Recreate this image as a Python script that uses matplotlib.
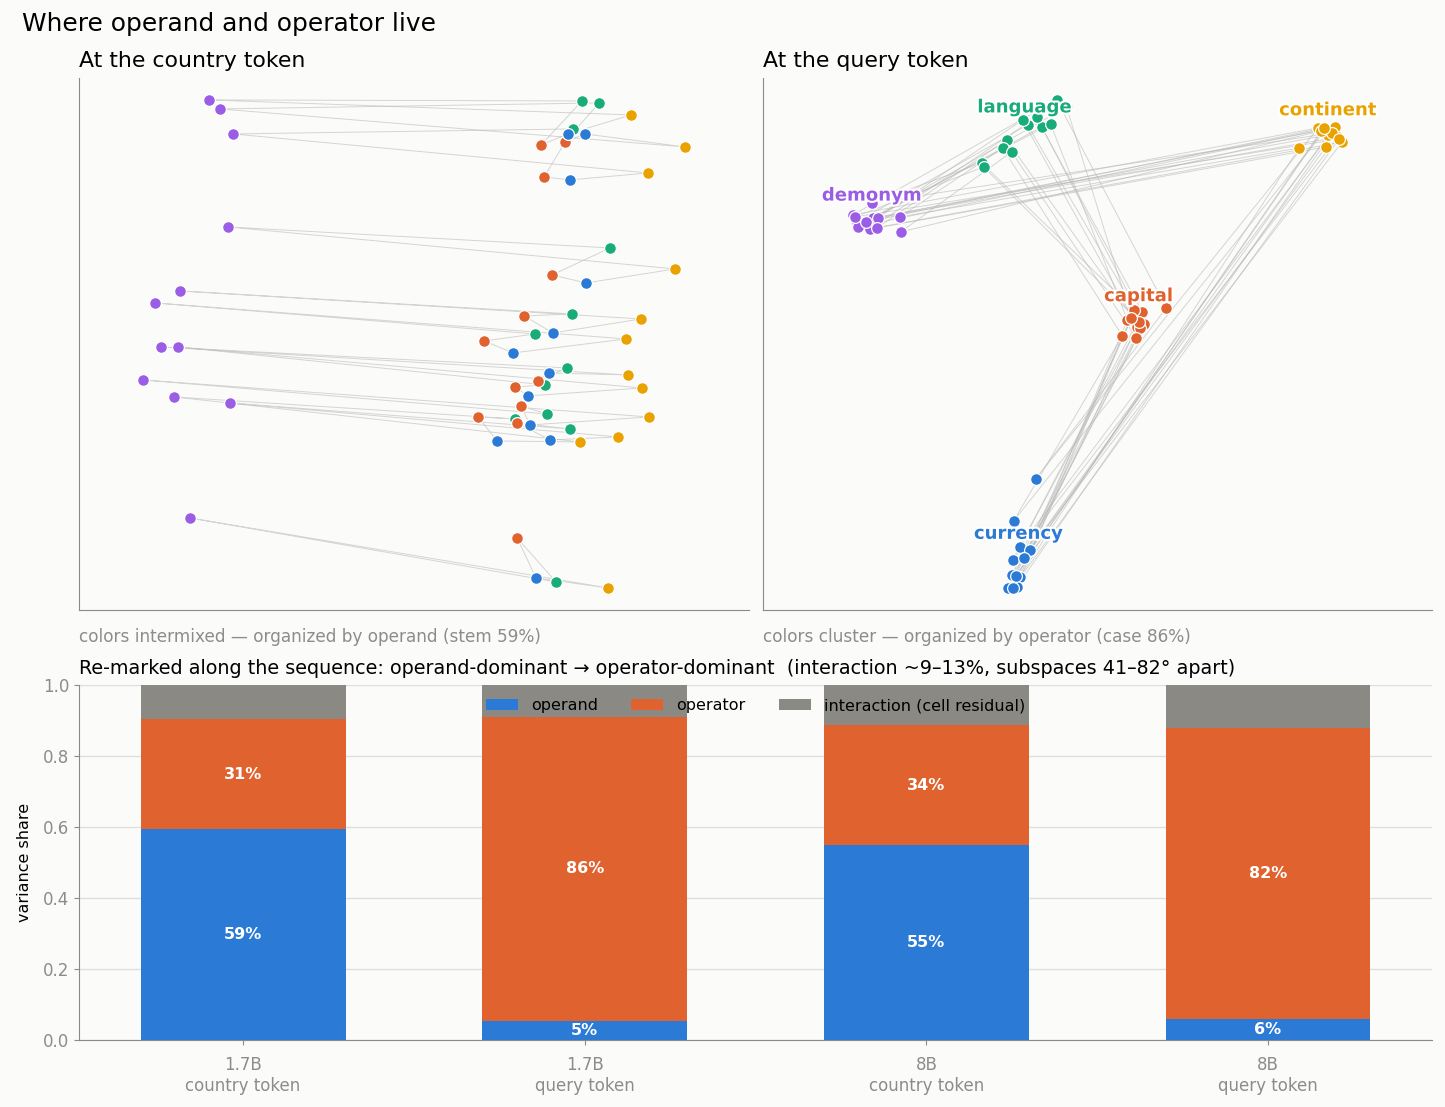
import numpy as np
import matplotlib
matplotlib.use("Agg")
import matplotlib.pyplot as plt
import matplotlib.patheffects as pe

# attribute order inside each country cycle
attrs = ["demonym", "language", "capital", "currency", "continent"]
colors = {"demonym": "#9b5de5", "language": "#1aab7b", "capital": "#e0622f",
          "currency": "#2a7ad6", "continent": "#e9a200"}

# country-token projection (12 countries), [x, y] per attribute
left_demonym = [[13.0, 51.0], [14.1, 50.1], [15.4, 47.6], [14.9, 38.3], [10.1, 31.9], [7.6, 30.7],
                [8.2, 26.3], [9.9, 26.3], [6.4, 23.0], [9.5, 21.3], [15.1, 20.7], [11.1, 9.2]]
left_language = [[50.3, 50.9], [52.0, 50.7], [49.4, 48.1], [53.1, 36.2], [49.3, 29.6], [45.6, 27.6],
                 [48.8, 24.2], [46.6, 22.5], [46.8, 19.6], [43.6, 19.1], [49.1, 18.1], [47.7, 2.8]]
left_capital = [[46.2, 46.5], [48.6, 46.8], [46.5, 43.3], [47.3, 33.5], [44.5, 29.4], [40.5, 26.9],
                [45.9, 22.9], [43.6, 22.3], [44.2, 20.4], [39.9, 19.3], [43.8, 18.7], [43.8, 7.2]]
left_currency = [[48.9, 47.6], [50.6, 47.6], [49.1, 43.0], [50.7, 32.7], [47.4, 27.7], [43.4, 25.7],
                 [47.0, 23.7], [44.9, 21.4], [45.1, 18.5], [41.8, 16.9], [47.1, 17.0], [45.7, 3.2]]
left_continent = [[55.2, 49.5], [60.6, 46.3], [56.9, 43.7], [59.6, 34.1], [56.2, 29.1], [54.7, 27.1],
                  [54.9, 23.5], [56.3, 22.2], [57.0, 19.3], [50.1, 16.8], [53.9, 17.3], [52.9, 2.2]]

# query-token projection
right_demonym = [[9.0, 39.5], [9.4, 38.8], [9.5, 38.3], [11.0, 39.2], [11.5, 39.2], [10.7, 38.1],
                 [11.4, 38.2], [13.7, 39.3], [13.8, 37.8], [10.9, 40.7], [9.2, 39.3], [10.3, 38.8]]
right_language = [[29.4, 51.0], [26.5, 48.5], [27.9, 48.3], [28.8, 48.6], [26.0, 49.0], [27.4, 49.3],
                  [24.4, 47.0], [24.0, 46.2], [24.9, 45.8], [21.9, 44.7], [22.1, 44.3], [30.4, 50.3]]
right_capital = [[40.4, 30.2], [37.4, 29.8], [38.0, 29.8], [36.5, 29.0], [37.5, 28.3], [38.2, 28.6],
                 [37.8, 28.2], [36.0, 27.4], [37.4, 27.2], [37.2, 30.0], [37.7, 28.8], [36.9, 29.2]]
right_currency = [[27.3, 13.1], [25.1, 8.9], [25.7, 6.3], [26.7, 6.0], [25.0, 5.0], [26.1, 5.2],
                  [24.9, 3.5], [25.7, 3.3], [24.5, 2.2], [25.4, 2.3], [25.0, 2.2], [25.3, 3.4]]
right_continent = [[55.6, 48.2], [56.4, 48.1], [57.3, 48.3], [56.6, 47.5], [57.6, 47.3], [58.0, 46.8],
                   [56.4, 46.3], [53.7, 46.2], [55.9, 47.9], [57.0, 47.7], [57.7, 47.1], [56.2, 48.2]]

# variance decomposition
bar_labels = ["1.7B\ncountry token", "1.7B\nquery token", "8B\ncountry token", "8B\nquery token"]
operand = [0.594, 0.053, 0.548, 0.058]
operator = [0.310, 0.858, 0.340, 0.821]

bg = "#fbfbf9"
plt.rcParams["font.family"] = ["DejaVu Sans"]

fig = plt.figure(figsize=(14.45, 11.07), dpi=100, facecolor=bg)
axL = fig.add_axes([0.0547, 0.449, 0.4637, 0.4806])
axR = fig.add_axes([0.528, 0.449, 0.4630, 0.4806])
axB = fig.add_axes([0.0547, 0.0605, 0.9363, 0.3207])


def scatter_panel(ax, groups, label_clusters):
    pts = {a: np.array(g) for a, g in zip(attrs, groups)}
    n = len(groups[0])
    for i in range(n):
        cyc = [pts[a][i] for a in attrs] + [pts[attrs[0]][i]]
        cyc = np.array(cyc)
        ax.plot(cyc[:, 0], cyc[:, 1], color="#b5b5b5", lw=0.7, alpha=0.55, zorder=1)
    for a in attrs:
        ax.scatter(pts[a][:, 0], pts[a][:, 1], s=72, color=colors[a], edgecolor="white",
                   linewidth=0.9, zorder=3)
        if label_clusters:
            cx, cy = pts[a].mean(axis=0)
            ax.annotate(a, (cx, cy), xytext=(0, 18), textcoords="offset points",
                        ha="center", va="center", fontsize=13, fontweight="bold",
                        color=colors[a], zorder=5,
                        path_effects=[pe.withStroke(linewidth=3, foreground="white")])
    ax.set_xlim(0, 67)
    ax.set_ylim(0, 53.2)
    ax.set_xticks([])
    ax.set_yticks([])
    ax.set_facecolor(bg)
    for s in ["top", "right"]:
        ax.spines[s].set_visible(False)
    for s in ["left", "bottom"]:
        ax.spines[s].set_color("#8a8a8a")


scatter_panel(axL, [left_demonym, left_language, left_capital, left_currency, left_continent], False)
scatter_panel(axR, [right_demonym, right_language, right_capital, right_currency, right_continent], True)

axL.set_title("At the country token", loc="left", fontsize=15.8, pad=8)
axR.set_title("At the query token", loc="left", fontsize=15.8, pad=8)
axL.text(0, -0.05, "colors intermixed — organized by operand (stem 59%)", transform=axL.transAxes,
         fontsize=12.2, color="#8c8c8c", va="center", ha="left")
axR.text(0, -0.05, "colors cluster — organized by operator (case 86%)", transform=axR.transAxes,
         fontsize=12.2, color="#8c8c8c", va="center", ha="left")

# stacked bars
x = np.arange(len(bar_labels))
operand = np.array(operand)
operator = np.array(operator)
interaction = 1 - operand - operator
w = 0.6
axB.bar(x, operand, w, color="#2a7ad6", label="operand", zorder=2)
axB.bar(x, operator, w, bottom=operand, color="#e0622f", label="operator", zorder=2)
axB.bar(x, interaction, w, bottom=operand + operator, color="#8a8984",
        label="interaction (cell residual)", zorder=2)
for i in range(len(x)):
    axB.text(x[i], operand[i] / 2, f"{operand[i] * 100:.0f}%", ha="center", va="center",
             color="white", fontweight="bold", fontsize=11.5, zorder=3)
    axB.text(x[i], operand[i] + operator[i] / 2, f"{operator[i] * 100:.0f}%", ha="center",
             va="center", color="white", fontweight="bold", fontsize=11.5, zorder=3)

axB.set_xlim(-0.48, 3.48)
axB.set_ylim(0, 1.0)
axB.set_xticks(x)
axB.set_xticklabels(bar_labels, color="#8c8c8c", fontsize=12)
axB.set_yticks(np.arange(0, 1.01, 0.2))
axB.set_yticklabels([f"{v:.1f}" for v in np.arange(0, 1.01, 0.2)], color="#8c8c8c", fontsize=12)
axB.tick_params(colors="#8c8c8c")
axB.tick_params(axis="x", pad=8)
axB.set_ylabel("variance share", fontsize=11.5, labelpad=8)
axB.grid(axis="y", color="#dedede", lw=1, zorder=0)
axB.set_axisbelow(True)
axB.set_facecolor(bg)
for s in ["top", "right"]:
    axB.spines[s].set_visible(False)
for s in ["left", "bottom"]:
    axB.spines[s].set_color("#8a8a8a")
axB.set_title("Re-marked along the sequence: operand-dominant \u2192 operator-dominant  "
              "(interaction ~9\u201313%, subspaces 41\u201382\u00b0 apart)",
              loc="left", fontsize=13.8, pad=8)
axB.legend(loc="upper center", ncol=3, frameon=False, fontsize=11.5,
           handlelength=2.0, handletextpad=0.8, columnspacing=2.1,
           bbox_to_anchor=(0.5, 1.003))

fig.text(0.015, 0.978, "Where operand and operator live", fontsize=17.9, ha="left", va="center")

fig.savefig("out.png", dpi=100, facecolor=bg)
